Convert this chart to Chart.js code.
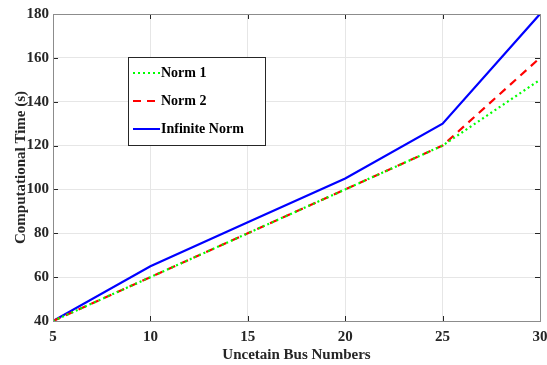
<!DOCTYPE html>
<html>
<head>
<meta charset="utf-8">
<script src="https://cdn.jsdelivr.net/npm/chart.js@4"></script>
<style>
  html, body { margin: 0; padding: 0; background: #fff; }
  #wrap { width: 547px; height: 365px; }
</style>
</head>
<body>
<div id="wrap"><canvas id="chart" width="547" height="365"></canvas></div>
<script>
var busNumbers = [5, 10, 15, 20, 25, 30];
var norm1 = [40, 60, 80, 100, 120, 150];
var norm2 = [40, 60, 80, 100, 120, 160];
var infNorm = [40, 65, 85, 105, 130, 180];
var seriesNames = ["Norm 1", "Norm 2", "Infinite Norm"];

var serif = "'Liberation Serif', 'Times New Roman', serif";

function pts(ys) {
  var out = [];
  for (var i = 0; i < busNumbers.length; i++) out.push({x: busNumbers[i], y: ys[i]});
  return out;
}

// box, inward ticks and the legend, drawn matlab style
var boxPlugin = {
  id: 'box',
  afterDatasetsDraw: function(chart) {
    var ctx = chart.ctx, a = chart.chartArea;
    var xs = chart.scales.x, ys = chart.scales.y;
    ctx.save();
    ctx.strokeStyle = '#262626';
    ctx.lineWidth = 1;
    ctx.beginPath();
    xs.ticks.forEach(function(t) {
      var px = Math.round(xs.getPixelForValue(t.value)) + 0.5;
      ctx.moveTo(px, a.bottom); ctx.lineTo(px, a.bottom - 5);
      ctx.moveTo(px, a.top); ctx.lineTo(px, a.top + 5);
    });
    ys.ticks.forEach(function(t) {
      var py = Math.round(ys.getPixelForValue(t.value)) + 0.5;
      ctx.moveTo(a.left, py); ctx.lineTo(a.left + 5, py);
      ctx.moveTo(a.right, py); ctx.lineTo(a.right - 5, py);
    });
    ctx.stroke();
    ctx.strokeStyle = '#8c8c8c';
    ctx.strokeRect(a.left + 0.5, a.top + 0.5, a.right - a.left, a.bottom - a.top);

    // legend
    var lx = 128, ly = 57, lw = 137, lh = 88;
    ctx.fillStyle = '#fff';
    ctx.fillRect(lx, ly, lw, lh);
    ctx.strokeStyle = '#262626';
    ctx.strokeRect(lx + 0.5, ly + 0.5, lw, lh);
    ctx.font = 'bold 14px ' + serif;
    ctx.textBaseline = 'middle';
    chart.data.datasets.forEach(function(ds, i) {
      var y = ly + 16 + i * 28;
      ctx.beginPath();
      ctx.strokeStyle = ds.borderColor;
      ctx.lineWidth = 2;
      ctx.setLineDash(ds.borderDash || []);
      ctx.moveTo(lx + 5, y); ctx.lineTo(lx + 32, y);
      ctx.stroke();
      ctx.setLineDash([]);
      ctx.fillStyle = '#000';
      ctx.fillText(ds.label, lx + 33, y);
    });
    ctx.restore();
  }
};

var ctx = document.getElementById('chart').getContext('2d');
var chart = new Chart(ctx, {
  type: 'line',
  data: {
    datasets: [
      { label: seriesNames[0], data: pts(norm1), borderColor: '#00ff00', borderWidth: 2.2, borderDash: [2, 3], pointRadius: 0, fill: false, order: 1 },
      { label: seriesNames[1], data: pts(norm2), borderColor: '#ff0000', borderWidth: 2.2, borderDash: [8, 6], pointRadius: 0, fill: false, order: 2 },
      { label: seriesNames[2], data: pts(infNorm), borderColor: '#0000ff', borderWidth: 2.2, pointRadius: 0, fill: false, order: 3 }
    ]
  },
  options: {
    responsive: false,
    animation: false,
    layout: { padding: { top: 14, right: 7, left: 0, bottom: 0 } },
    plugins: { legend: { display: false }, tooltip: { enabled: false } },
    scales: {
      x: {
        type: 'linear', min: 5, max: 30,
        ticks: { stepSize: 5, color: '#262626', font: { family: serif, size: 15, weight: 'bold' }, padding: 7 },
        grid: { color: '#e6e6e6', drawTicks: false },
        border: { display: false },
        title: { display: true, text: 'Uncetain Bus Numbers', color: '#262626', font: { family: serif, size: 15, weight: 'bold' }, padding: { top: 3, bottom: 1 } },
        afterFit: function(s) { s.height = 44; s.paddingLeft = 0; s.paddingRight = 0; }
      },
      y: {
        min: 40, max: 180,
        ticks: { stepSize: 20, color: '#262626', font: { family: serif, size: 15, weight: 'bold' }, padding: 4 },
        grid: { color: '#e6e6e6', drawTicks: false },
        border: { display: false },
        title: { display: true, text: 'Computational Time (s)', color: '#262626', font: { family: serif, size: 15, weight: 'bold' }, padding: { top: 12, bottom: 0 } },
        afterFit: function(s) { s.width = 53; s.paddingTop = 0; s.paddingBottom = 0; }
      }
    }
  },
  plugins: [boxPlugin]
});
</script>
</body>
</html>
